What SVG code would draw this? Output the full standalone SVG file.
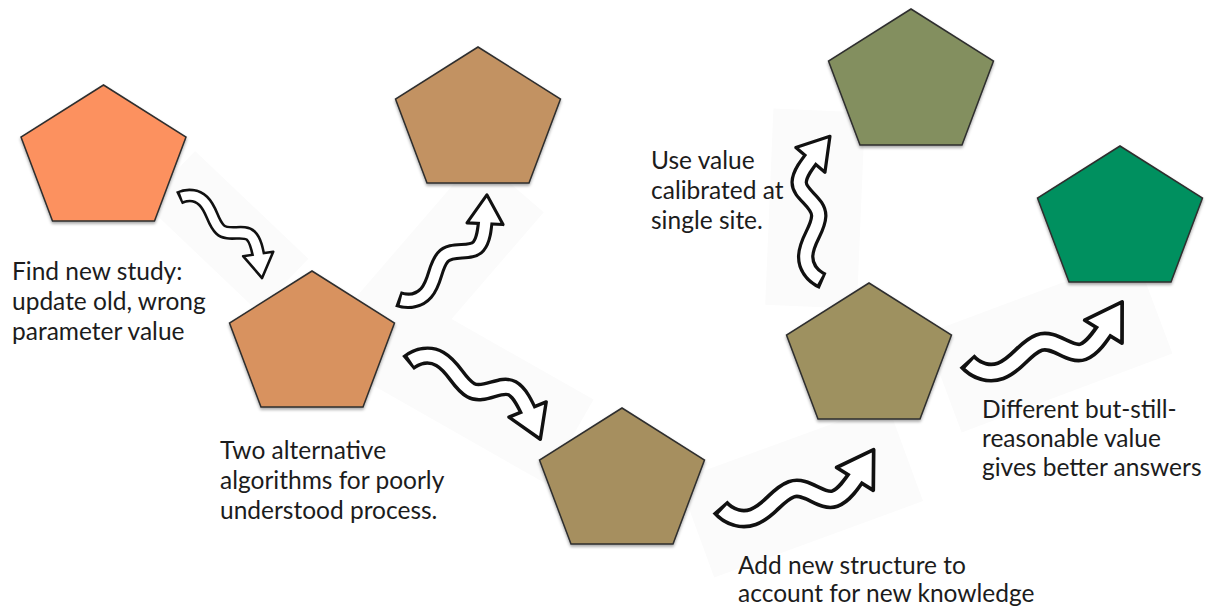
<svg xmlns="http://www.w3.org/2000/svg" xmlns:xlink="http://www.w3.org/1999/xlink" width="1222" height="606" viewBox="0 0 1222 606">
  <style>
    .pent { stroke: #2e2e2e; stroke-width: 1.5; stroke-linejoin: miter; filter: url(#shadow); }
    .label { font-family: Lato, "Noto Sans", "Liberation Sans", sans-serif; font-size: 24.5px; fill: #1c1c1c; }
    .panel { fill: #fbfbfb; }
    .shaft-out { fill: none; stroke: #111; stroke-width: 20; stroke-linecap: butt; stroke-linejoin: round; }
    .shaft-in { fill: none; stroke: #fff; stroke-width: 12.6; stroke-linecap: butt; stroke-linejoin: round; stroke-dasharray: 0 3.7 1000; }
    .head { fill: #fff; stroke: #111; stroke-width: 3.7; stroke-linejoin: round; }
  </style>
  <defs>
    <filter id="shadow" x="-10%" y="-10%" width="120%" height="125%">
      <feDropShadow dx="0" dy="2" stdDeviation="1.5" flood-color="#000" flood-opacity="0.35"/>
    </filter>
    <!-- pentagon, apex at the origin -->
    <polygon id="pentagon" points="0,0 82.5,52 51,136 -51,136 -82.5,52"/>
    <!-- wavy block arrow, tail at the origin, tip at (165,0) -->
    <g id="wave-arrow">
      <path class="shaft-out" d="M0,0 C5,13 16,21 28,21 C46,21 58,8 74,8 C90,8 98,32 112,32 C122,32 133,24 144,16"/>
      <polygon class="head" points="166,-1 151.5,37.5 124.5,3"/>
      <path class="shaft-in" d="M0,0 C5,13 16,21 28,21 C46,21 58,8 74,8 C90,8 98,32 112,32 C122,32 133,24 145,15.5"/>
    </g>
    <rect id="arrow-panel" class="panel" x="-30" y="-40" width="225" height="105"/>
  </defs>

  <rect width="1222" height="606" fill="#fff"/>

  <!-- pale backing sheets under the arrows -->
  <g id="panels">
    <use xlink:href="#arrow-panel" transform="translate(179,198) rotate(43.6) scale(0.695,-0.695)"/>
    <use xlink:href="#arrow-panel" transform="translate(398,299) rotate(-49.2) scale(0.825)"/>
    <use xlink:href="#arrow-panel" transform="translate(408,363) rotate(29.6) scale(0.92,-0.92)"/>
    <use xlink:href="#arrow-panel" transform="translate(720,507) rotate(-20.1) scale(0.988)"/>
    <use xlink:href="#arrow-panel" transform="translate(823,281) rotate(-87.6) scale(0.873,-0.873)"/>
    <use xlink:href="#arrow-panel" transform="translate(967,361) rotate(-20.5)"/>
  </g>

  <g id="node-start"><use xlink:href="#pentagon" class="pent" fill="#fc915e" transform="translate(103.5,85)"/></g>
  <g id="node-new-study"><use xlink:href="#pentagon" class="pent" fill="#d8925f" transform="translate(312,271)"/></g>
  <g id="node-alt-a"><use xlink:href="#pentagon" class="pent" fill="#c29262" transform="translate(478,47)"/></g>
  <g id="node-alt-b"><use xlink:href="#pentagon" class="pent" fill="#a68f5f" transform="translate(622,408)"/></g>
  <g id="node-structure"><use xlink:href="#pentagon" class="pent" fill="#9e9160" transform="translate(869,283)"/></g>
  <g id="node-calibrated"><use xlink:href="#pentagon" class="pent" fill="#838f5f" transform="translate(911,9)"/></g>
  <g id="node-better"><use xlink:href="#pentagon" class="pent" fill="#00905e" transform="translate(1120,146)"/></g>

  <g id="connectors">
    <use xlink:href="#wave-arrow" transform="translate(179,198) rotate(43.6) scale(0.695,-0.695)"/>
    <use xlink:href="#wave-arrow" transform="translate(398,299) rotate(-49.2) scale(0.825)"/>
    <use xlink:href="#wave-arrow" transform="translate(408,363) rotate(29.6) scale(0.92,-0.92)"/>
    <use xlink:href="#wave-arrow" transform="translate(720,507) rotate(-20.1) scale(0.988)"/>
    <use xlink:href="#wave-arrow" transform="translate(823,281) rotate(-87.6) scale(0.873,-0.873)"/>
    <use xlink:href="#wave-arrow" transform="translate(967,361) rotate(-20.5)"/>
  </g>

  <g id="labels">
    <text class="label" x="12" y="280">Find new study:</text>
    <text class="label" x="12" y="310">update old, wrong</text>
    <text class="label" x="12" y="340">parameter value</text>

    <text class="label" x="220" y="459">Two alternative</text>
    <text class="label" x="220" y="489">algorithms for poorly</text>
    <text class="label" x="220" y="519">understood process.</text>

    <text class="label" x="738" y="574">Add new structure to</text>
    <text class="label" x="738" y="602">account for new knowledge</text>

    <text class="label" x="651" y="169">Use value</text>
    <text class="label" x="651" y="199">calibrated at</text>
    <text class="label" x="651" y="229">single site.</text>

    <text class="label" x="982" y="418">Different but-still-</text>
    <text class="label" x="982" y="447">reasonable value</text>
    <text class="label" x="982" y="476">gives better answers</text>
  </g>
</svg>
